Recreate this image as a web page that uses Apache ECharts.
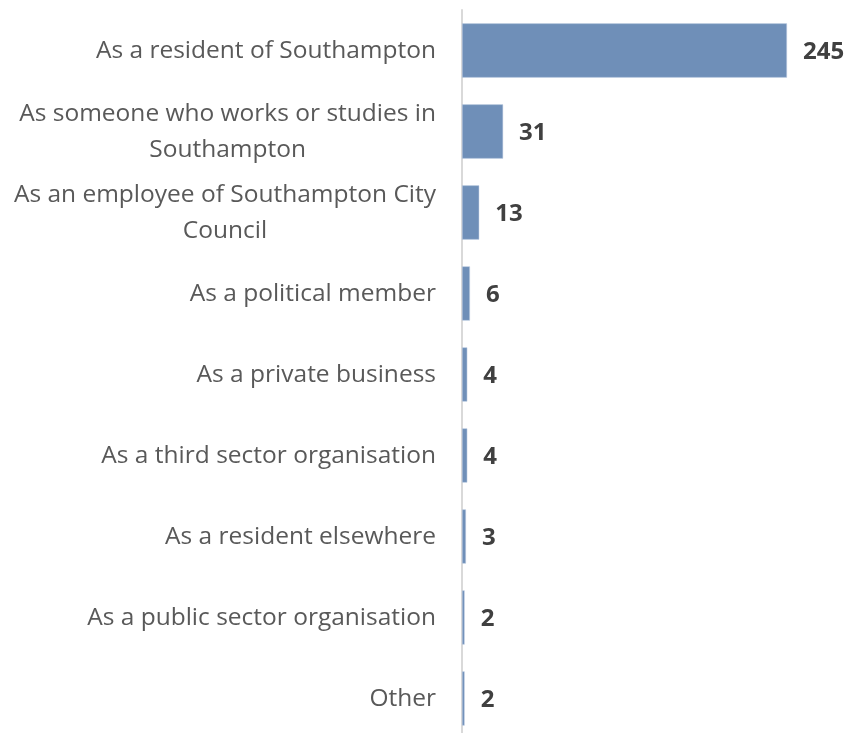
<!DOCTYPE html>
<html><head><meta charset="utf-8">
<script src="https://cdn.jsdelivr.net/npm/echarts@6/dist/echarts.min.js"></script>
<style>html,body{margin:0;padding:0;background:#fff;overflow:hidden}#c{width:851px;height:740px}</style>
</head><body><div id="c"></div>
<script>
const categories = [
  "As a resident of Southampton",
  "As someone who works or studies in\nSouthampton",
  "As an employee of Southampton City\nCouncil",
  "As a political member",
  "As a private business",
  "As a third sector organisation",
  "As a resident elsewhere",
  "As a public sector organisation",
  "Other"
];
const values = [245, 31, 13, 6, 4, 4, 3, 2, 2];

const chart = echarts.init(document.getElementById('c'));
chart.setOption({
  animation: false,
  grid: { left: 462, right: 64, top: 10, bottom: 1, containLabel: false },
  xAxis: { type: 'value', min: 0, max: 245, show: false },
  yAxis: {
    type: 'category', data: categories, inverse: true,
    axisLine: { show: true, lineStyle: { color: '#d9d9d9', width: 2 } },
    axisTick: { show: false },
    axisLabel: {
      margin: 26, fontFamily: 'Open Sans', fontSize: 24.5, color: '#595959', lineHeight: 36,
      formatter: function (v) { return v.split('\n').map(s => '{c|' + s + '}').join('\n'); },
      rich: { c: { align: 'center', fontFamily: 'Open Sans', fontSize: 24.5, color: '#595959', lineHeight: 36, padding: [2, 0, 0, 0] } }
    }
  },
  series: [{
    type: 'bar', data: values, barCategoryGap: '33%',
    itemStyle: { color: '#6f8fb8', borderColor: '#c9d5e6', borderWidth: 0.5 },
    label: { show: true, position: 'right', distance: 16, offset: [0, 2], fontFamily: 'Open Sans', fontWeight: 'bold', fontSize: 24, color: '#404040' }
  }]
});
</script></body></html>
